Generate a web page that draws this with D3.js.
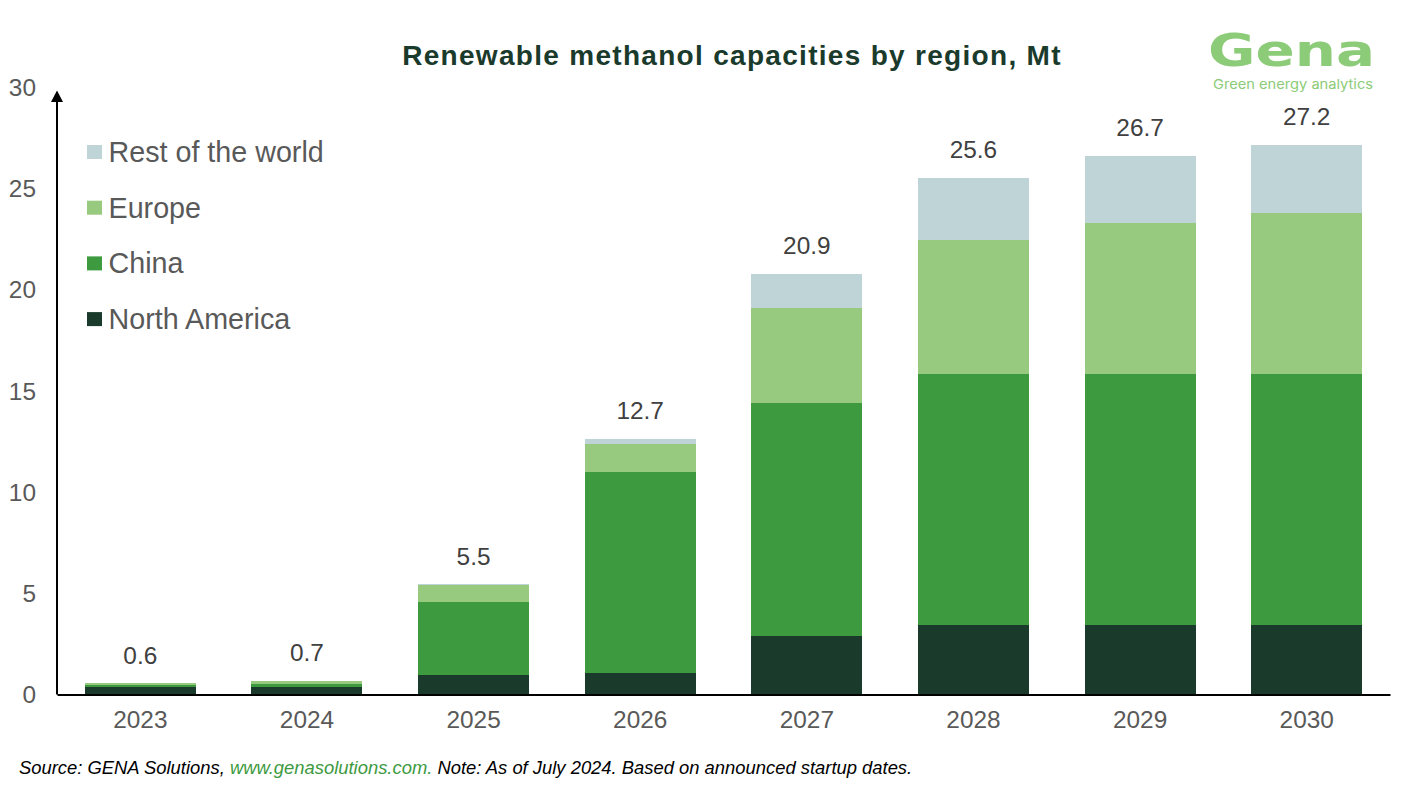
<!DOCTYPE html>
<html>
<head>
<meta charset="utf-8">
<script src="https://cdn.jsdelivr.net/npm/d3@7"></script>
<style>
  html, body { margin: 0; padding: 0; background: #fff; overflow: hidden; }
  text { font-family: "Liberation Sans", Arial, sans-serif; }
  .axis text { fill: #595959; font-size: 24.4px; }
</style>
</head>
<body>
<script>
const years = ['2023', '2024', '2025', '2026', '2027', '2028', '2029', '2030'];
const regions = ['North America', 'China', 'Europe', 'Rest of the world'];

const northAmerica = [0.37, 0.37, 0.97, 1.07, 2.87, 3.45, 3.45, 3.45];
const china = [0.1, 0.17, 3.63, 9.93, 11.53, 12.4, 12.4, 12.4];
const europe = [0.08, 0.11, 0.8, 1.4, 4.7, 6.65, 7.45, 7.95];
const restOfWorld = [0, 0.03, 0.05, 0.25, 1.7, 3.05, 3.35, 3.4];
const totalLabels = ['0.6', '0.7', '5.5', '12.7', '20.9', '25.6', '26.7', '27.2'];
const yTicks = [0, 5, 10, 15, 20, 25, 30];

const colors = ['#1a3a2c', '#3d9a3f', '#97c97e', '#bed4d6'];

const width = 1402;
const height = 790;
const margin = { top: 88, right: 12, bottom: 95.5, left: 57 };

const rows = years.map((year, i) => ({
  year,
  'North America': northAmerica[i],
  'China': china[i],
  'Europe': europe[i],
  'Rest of the world': restOfWorld[i],
  label: totalLabels[i]
}));

const svg = d3.select('body')
  .append('svg')
  .attr('width', width)
  .attr('height', height);

const x = d3.scaleBand()
  .domain(years)
  .range([margin.left, width - margin.right])
  .paddingInner(1 / 3)
  .paddingOuter(1 / 6);

const y = d3.scaleLinear()
  .domain([0, 30])
  .range([height - margin.bottom, margin.top]);

const color = d3.scaleOrdinal().domain(regions).range(colors);

const stacked = d3.stack().keys(regions)(rows);

// Title
svg.append('text')
  .attr('x', 732)
  .attr('y', 65)
  .attr('text-anchor', 'middle')
  .attr('font-size', '28px')
  .attr('font-weight', 'bold')
  .attr('letter-spacing', '1.3px')
  .attr('fill', '#1a3a2c')
  .text('Renewable methanol capacities by region, Mt');

// Bars
svg.selectAll('g.layer')
  .data(stacked)
  .enter()
  .append('g')
  .attr('class', 'layer')
  .attr('fill', d => color(d.key))
  .selectAll('rect')
  .data(d => d)
  .enter()
  .append('rect')
  .attr('x', d => x(d.data.year))
  .attr('width', x.bandwidth())
  .attr('y', d => y(d[1]))
  .attr('height', d => y(d[0]) - y(d[1]))
  .attr('shape-rendering', 'crispEdges');

// Total labels
svg.selectAll('text.total')
  .data(rows)
  .enter()
  .append('text')
  .attr('class', 'total')
  .attr('x', d => x(d.year) + x.bandwidth() / 2)
  .attr('y', d => y(d3.sum(regions, r => d[r])) - 19.5)
  .attr('text-anchor', 'middle')
  .attr('font-size', '24.4px')
  .attr('fill', '#404040')
  .text(d => d.label);

// Y axis
const yAxis = svg.append('g')
  .attr('class', 'axis')
  .attr('transform', `translate(${margin.left},0)`)
  .call(d3.axisLeft(y).tickValues(yTicks).tickSize(0).tickPadding(21));
yAxis.select('.domain').remove();

// X axis
const xAxis = svg.append('g')
  .attr('class', 'axis')
  .attr('transform', `translate(0,${y(0)})`)
  .call(d3.axisBottom(x).tickSize(0).tickPadding(16));
xAxis.select('.domain')
  .attr('stroke', '#000')
  .attr('stroke-width', 2);

// Arrow on the value axis
svg.append('line')
  .attr('x1', margin.left)
  .attr('x2', margin.left)
  .attr('y1', y(0))
  .attr('y2', 100)
  .attr('stroke', '#000')
  .attr('stroke-width', 2);
svg.append('path')
  .attr('d', `M${margin.left},90.5L${margin.left + 6},102H${margin.left - 6}Z`)
  .attr('fill', '#000');

// Legend
const legendRows = regions.slice().reverse();
const legend = svg.selectAll('g.legend')
  .data(legendRows)
  .enter()
  .append('g')
  .attr('class', 'legend')
  .attr('transform', (d, i) => `translate(87,${152 + i * 55.7})`);
legend.append('rect')
  .attr('y', -7)
  .attr('width', 15)
  .attr('height', 14)
  .attr('fill', d => color(d));
legend.append('text')
  .attr('x', 21.5)
  .attr('y', 10)
  .attr('font-size', '28.7px')
  .attr('fill', '#595959')
  .text(d => d);

// Logo
const logo = svg.append('g').attr('fill', '#8ccb78');
logo.append('text')
  .attr('x', 1208)
  .attr('y', 65.5)
  .attr('font-size', '44px')
  .attr('font-weight', 'bold')
  .style('font-family', '"DejaVu Sans", sans-serif')
  .attr('textLength', 167)
  .attr('lengthAdjust', 'spacingAndGlyphs')
  .text('Gena');
logo.append('text')
  .attr('x', 1213)
  .attr('y', 89)
  .attr('font-size', '13px')
  .style('font-family', 'Inter, sans-serif')
  .attr('textLength', 160)
  .attr('lengthAdjust', 'spacingAndGlyphs')
  .text('Green energy analytics');

// Source note
const note = svg.append('text')
  .attr('x', 19)
  .attr('y', 774)
  .attr('font-size', '18.4px')
  .attr('font-style', 'italic')
  .attr('fill', '#000');
note.append('tspan').text('Source: GENA Solutions, ');
note.append('tspan').attr('fill', '#3d9a3f').text('www.genasolutions.com.');
note.append('tspan').text(' Note: As of July 2024. Based on announced startup dates.');
</script>
</body>
</html>
